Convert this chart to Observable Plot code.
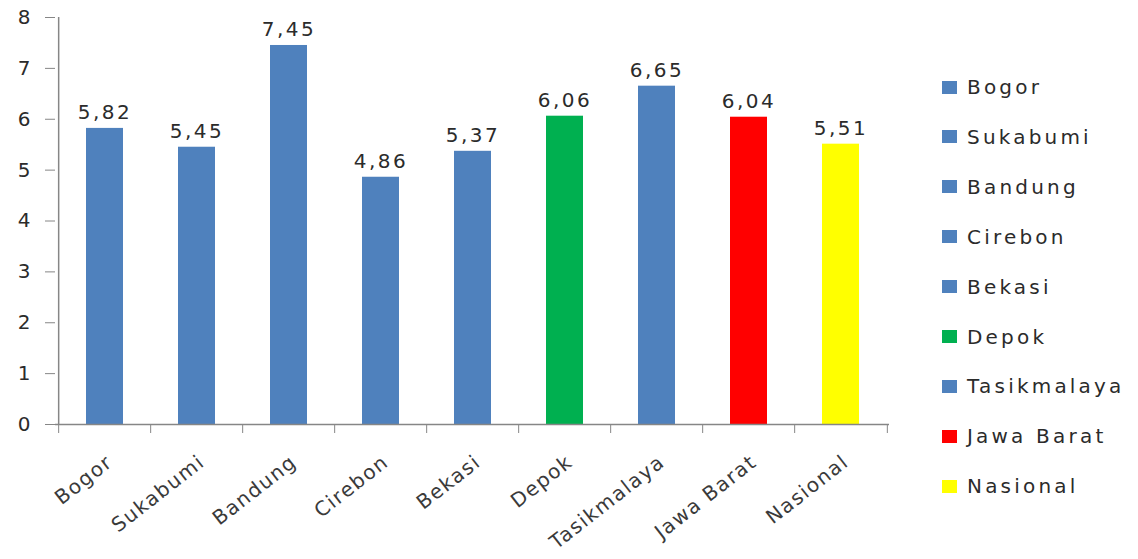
<!DOCTYPE html>
<html>
<head>
<meta charset="utf-8">
<script src="https://cdn.jsdelivr.net/npm/d3@7"></script>
<script src="https://cdn.jsdelivr.net/npm/@observablehq/plot@0.6"></script>
<style>
  html, body { margin: 0; padding: 0; background: #fff; }
  #wrap { position: relative; width: 1138px; height: 559px; overflow: hidden; font-family: "DejaVu Sans", sans-serif; }
  #chart svg { display: block; }
  .vlabel text { letter-spacing: 2.5px; }
  .xlabel text { letter-spacing: 1.5px; }
  #legend { position: absolute; left: 942px; top: 0; }
  .item { position: absolute; left: 0; display: flex; align-items: center; white-space: nowrap;
          font-size: 20px; letter-spacing: 3.2px; color: #2b2b2b; height: 24px; }
  .sw { width: 15px; height: 13px; margin-right: 10px; flex: none; }
</style>
</head>
<body>
<div id="wrap">
  <div id="chart"></div>
  <div id="legend"></div>
</div>
<script>
const categories = ["Bogor", "Sukabumi", "Bandung", "Cirebon", "Bekasi", "Depok", "Tasikmalaya", "Jawa Barat", "Nasional"];
const values = [5.82, 5.45, 7.45, 4.86, 5.37, 6.06, 6.65, 6.04, 5.51];
const colors = ["#4F81BD", "#4F81BD", "#4F81BD", "#4F81BD", "#4F81BD", "#00B050", "#4F81BD", "#FF0000", "#FFFF00"];
const yTicks = [0, 1, 2, 3, 4, 5, 6, 7, 8];

const data = categories.map((c, i) => ({cat: c, value: values[i], color: colors[i]}));
const fmt = d => d3.format(".2f")(d.value).replace(".", ",");

const W = 1138, H = 559, mL = 55, mR = 249, mT = 17, mB = 135;
const step = (W - mL - mR) / categories.length;
const axisGray = "#868686";

const chart = Plot.plot({
  width: W, height: H,
  marginLeft: mL, marginRight: mR, marginTop: mT, marginBottom: mB,
  x: {domain: categories, paddingInner: 0.6, paddingOuter: 0.3, label: null},
  y: {domain: [0, 8], label: null},
  color: {type: "identity"},
  style: {fontFamily: "DejaVu Sans, sans-serif", fontSize: "20px", background: "white", color: "#404040"},
  marks: [
    Plot.barY(data, {x: "cat", y: "value", fill: "color"}),
    Plot.ruleY([0], {stroke: axisGray, strokeWidth: 1.5}),
    Plot.ruleX([categories[0]], {dx: -step / 2, y1: 0, y2: 8, stroke: axisGray, strokeWidth: 1.5}),
    Plot.axisY({ticks: yTicks, tickSize: 10, tickPadding: 15, fontSize: 20, stroke: axisGray, fill: "#2b2b2b"}),
    Plot.axisX({tickSize: 9, tickFormat: () => "", dx: -step / 2, stroke: axisGray}),
    Plot.axisX({ticks: [categories[categories.length - 1]], tickSize: 9, tickFormat: () => "", dx: step / 2, stroke: axisGray}),
    Plot.text(data, {x: "cat", y: 0, text: "cat", rotate: -38, textAnchor: "end", lineAnchor: "bottom",
      dx: 9, dy: 40, fontSize: 20, fill: "#3a3a3a", className: "xlabel"}),
    Plot.text(data, {x: "cat", y: "value", text: fmt, lineAnchor: "bottom", dy: -9, fontSize: 20,
      fill: "#2b2b2b", className: "vlabel"})
  ]
});
document.getElementById("chart").appendChild(chart);

const legend = document.getElementById("legend");
const rowTop = 87, rowGap = 49.9;
categories.forEach((c, i) => {
  const item = document.createElement("div");
  item.className = "item";
  item.style.top = (rowTop + i * rowGap - 12) + "px";
  const sw = document.createElement("span");
  sw.className = "sw";
  sw.style.background = colors[i];
  item.appendChild(sw);
  item.appendChild(document.createTextNode(c));
  legend.appendChild(item);
});
</script>
</body>
</html>
